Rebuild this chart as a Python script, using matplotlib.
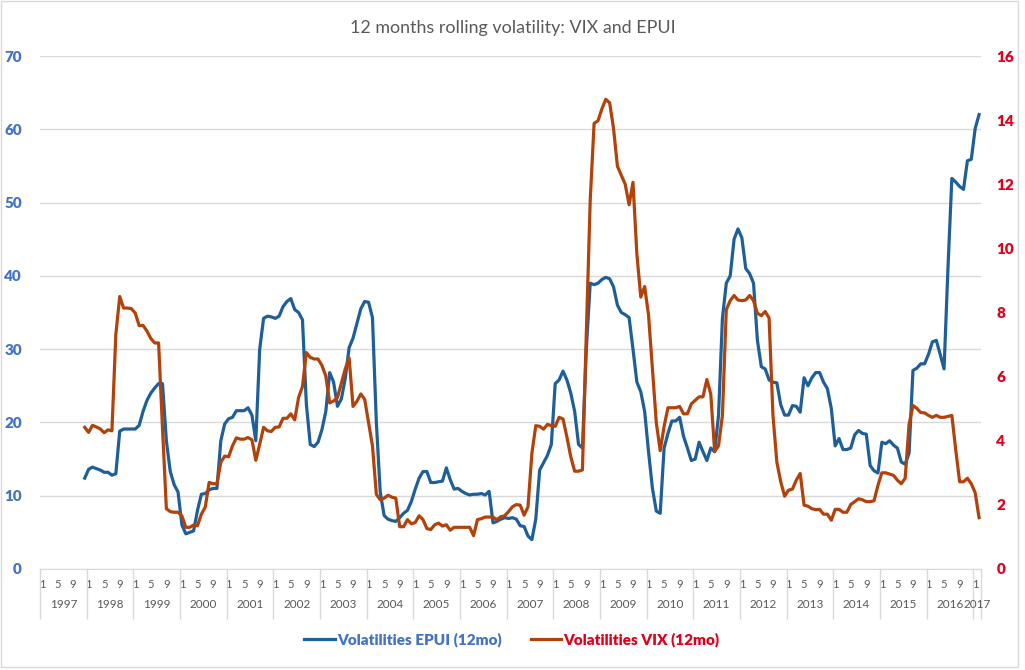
import pandas as pd
import matplotlib.pyplot as plt
from matplotlib.patches import Rectangle

plt.rcParams['font.family'] = ['Lato', 'DejaVu Sans']

# months on the category axis: Jan 1997 .. Feb 2017
months = pd.date_range('1997-01-01', '2017-02-01', freq='MS')
start_month = '1997-12-01'

# 12 months rolling volatility, EPUI (left axis), Dec 1997 .. Feb 2017
epui = [12.4,
        13.6, 13.9, 13.7, 13.5, 13.2, 13.2, 12.8, 13.0, 18.8, 19.1, 19.1, 19.1,   # 1998
        19.1, 19.6, 21.5, 23.0, 24.0, 24.7, 25.3, 25.3, 17.5, 13.3, 11.5, 10.5,   # 1999
        6.0, 4.8, 5.0, 5.2, 8.0, 10.2, 10.3, 10.8, 11.0, 11.0, 17.5, 19.8,        # 2000
        20.5, 20.7, 21.6, 21.6, 21.6, 22.0, 21.0, 17.5, 30.0, 34.2, 34.5, 34.4,   # 2001
        34.2, 34.5, 35.8, 36.5, 36.9, 35.4, 35.0, 34.0, 22.5, 17.0, 16.7, 17.3,   # 2002
        19.0, 21.5, 26.8, 25.5, 22.2, 23.2, 26.0, 30.2, 31.5, 33.5, 35.5, 36.5,   # 2003
        36.4, 34.3, 20.0, 10.5, 7.3, 6.8, 6.6, 6.5, 7.0, 7.6, 8.0, 9.2,           # 2004
        10.9, 12.4, 13.3, 13.3, 11.8, 11.8, 11.9, 12.0, 13.8, 12.2, 10.9, 11.0,   # 2005
        10.6, 10.3, 10.1, 10.2, 10.2, 10.3, 10.1, 10.6, 6.3, 6.5, 6.8, 7.0,       # 2006
        6.9, 7.0, 6.8, 5.9, 5.8, 4.5, 4.0, 6.8, 13.5, 14.5, 15.5, 17.0,           # 2007
        25.3, 25.8, 27.0, 25.8, 24.0, 21.5, 17.0, 16.5, 30.0, 39.0, 38.8, 39.0,   # 2008
        39.5, 39.8, 39.6, 38.5, 36.0, 35.0, 34.7, 34.3, 30.0, 25.5, 24.2, 21.5,   # 2009
        16.0, 11.0, 7.9, 7.6, 16.5, 18.5, 20.2, 20.2, 20.7, 18.1, 16.5, 14.8,     # 2010
        15.0, 17.3, 16.0, 14.8, 16.5, 16.0, 21.0, 34.2, 39.0, 40.0, 45.0, 46.4,   # 2011
        45.2, 41.0, 40.3, 39.0, 31.2, 27.6, 27.3, 25.8, 25.5, 25.4, 22.4, 21.0,   # 2012
        21.0, 22.3, 22.2, 21.4, 26.1, 25.0, 26.1, 26.8, 26.8, 25.5, 24.6, 21.9,   # 2013
        16.8, 17.8, 16.3, 16.3, 16.5, 18.3, 18.9, 18.5, 18.4, 14.1, 13.4, 13.1,   # 2014
        17.3, 17.1, 17.5, 16.9, 16.5, 14.6, 14.3, 15.8, 27.1, 27.4, 28.0, 28.0,   # 2015
        29.3, 31.0, 31.2, 29.3, 27.3, 41.0, 53.3, 52.8, 52.2, 51.8, 55.7, 55.9,   # 2016
        60.1, 62.0]                                                               # 2017

# 12 months rolling volatility, VIX (right axis), Dec 1997 .. Feb 2017
vix = [4.42,
       4.26, 4.48, 4.43, 4.37, 4.25, 4.34, 4.31, 7.31, 8.50, 8.14, 8.14, 8.12,
       7.98, 7.59, 7.60, 7.42, 7.19, 7.05, 7.05, 4.40, 1.88, 1.79, 1.77, 1.77,
       1.65, 1.30, 1.30, 1.37, 1.35, 1.71, 1.93, 2.70, 2.66, 2.66, 3.33, 3.52,
       3.50, 3.84, 4.09, 4.05, 4.05, 4.10, 4.03, 3.39, 3.89, 4.42, 4.31, 4.29,
       4.42, 4.43, 4.70, 4.70, 4.84, 4.65, 5.35, 5.69, 6.75, 6.60, 6.55, 6.55,
       6.35, 6.02, 5.18, 5.24, 5.35, 5.80, 6.24, 6.58, 5.07, 5.23, 5.46, 5.29,
       4.56, 3.84, 2.33, 2.16, 2.21, 2.30, 2.24, 2.21, 1.32, 1.32, 1.54, 1.41,
       1.45, 1.66, 1.54, 1.26, 1.23, 1.38, 1.43, 1.34, 1.38, 1.21, 1.30, 1.30,
       1.30, 1.30, 1.30, 1.04, 1.54, 1.57, 1.62, 1.62, 1.62, 1.54, 1.63, 1.66,
       1.79, 1.94, 2.01, 1.99, 1.68, 1.94, 3.61, 4.47, 4.45, 4.36, 4.51, 4.47,
       4.45, 4.73, 4.68, 4.12, 3.50, 3.05, 3.05, 3.09, 7.36, 11.5, 13.9, 13.98,
       14.35, 14.65, 14.54, 13.74, 12.56, 12.28, 12.0, 11.36, 12.06, 9.82, 8.48, 8.81,
       7.92, 6.24, 4.56, 3.69, 4.45, 5.03, 5.03, 5.03, 5.07, 4.84, 4.84, 5.15,
       5.26, 5.37, 5.37, 5.91, 5.46, 3.67, 3.84, 4.79, 8.09, 8.37, 8.53, 8.39,
       8.37, 8.39, 8.53, 8.37, 7.98, 7.90, 8.03, 7.83, 4.79, 3.33, 2.72, 2.27,
       2.46, 2.49, 2.77, 2.98, 1.99, 1.96, 1.88, 1.85, 1.86, 1.71, 1.71, 1.52,
       1.86, 1.86, 1.77, 1.77, 2.01, 2.10, 2.19, 2.16, 2.10, 2.10, 2.13, 2.61,
       3.00, 3.00, 2.96, 2.92, 2.77, 2.66, 2.83, 4.51, 5.10, 5.01, 4.88, 4.87,
       4.79, 4.73, 4.79, 4.73, 4.73, 4.76, 4.79, 3.72, 2.72, 2.72, 2.83, 2.66,
       2.38, 1.60]

left_ticks = [0, 10, 20, 30, 40, 50, 60, 70]
right_ticks = [0, 2, 4, 6, 8, 10, 12, 14, 16]

blue = '#1f5f99'
orange = '#b3420a'
blue_txt = '#4472c4'
red_txt = '#e0001b'
grey = '#595959'

i0 = list(months).index(pd.Timestamp(start_month))
x = list(range(i0, len(months)))

fig = plt.figure(figsize=(10.25, 6.7), dpi=100)
ax = fig.add_axes([40 / 1025, 1 - 569 / 670, 941 / 1025, 513 / 670])
ax2 = ax.twinx()

l1, = ax.plot(x, epui, color=blue, lw=2.3, solid_joinstyle='round', zorder=3)
l2, = ax2.plot(x, vix, color=orange, lw=2.3, solid_joinstyle='round', zorder=3)

ax.set_xlim(-0.5, len(months) - 0.5)
ax.set_ylim(0, 70)
ax2.set_ylim(0, 16)
ax.set_yticks(left_ticks)
ax2.set_yticks(right_ticks)
ax.grid(axis='y', color='#d9d9d9', lw=1)
ax.set_axisbelow(True)

for a in (ax, ax2):
    for s in a.spines.values():
        s.set_visible(False)
ax.spines['bottom'].set_visible(True)
ax.spines['bottom'].set_color('#d9d9d9')

ax.tick_params(axis='y', length=0, pad=13, labelcolor=blue_txt, labelsize=11)
ax2.tick_params(axis='y', length=0, pad=11, labelcolor=red_txt, labelsize=11)
for t in ax.get_yticklabels() + ax2.get_yticklabels():
    t.set_fontweight('heavy')

# month labels 1 5 9
pos = [k for k, m in enumerate(months) if m.month in (1, 5, 9)]
ax.set_xticks(pos)
ax.set_xticklabels([str(months[k].month) for k in pos], fontsize=8, color=grey)
ax.tick_params(axis='x', which='major', length=0, pad=7)

# year separators
bounds = [k - 0.5 for k, m in enumerate(months) if m.month == 1] + [len(months) - 0.5]
ax.set_xticks(bounds, minor=True)
ax.tick_params(axis='x', which='minor', length=36, width=1, color='#d9d9d9')

years = sorted(set(m.year for m in months))
for yr in years:
    idx = [k for k, m in enumerate(months) if m.year == yr]
    ax.text((idx[0] + idx[-1]) / 2, -35 / 513, str(yr), transform=ax.get_xaxis_transform(),
            ha='center', va='center', fontsize=8.5, color=grey)

fig.suptitle('12 months rolling volatility: VIX and EPUI', y=1 - 28 / 670, va='center',
             fontsize=12.9, color=grey)

leg = fig.legend([l1, l2], ['Volatilities EPUI (12mo)', 'Volatilities VIX (12mo)'],
                 loc='center', bbox_to_anchor=(512 / 1025, 1 - 640 / 670), ncol=2,
                 frameon=False, fontsize=11, handlelength=2.0, handletextpad=0.15,
                 columnspacing=1.9)
for t, c in zip(leg.get_texts(), (blue_txt, red_txt)):
    t.set_color(c)
    t.set_fontweight('heavy')

fig.patches.append(Rectangle((0.001, 1 - 667 / 670), 1017 / 1025, 666 / 670,
                             transform=fig.transFigure, fill=False,
                             edgecolor='#d9d9d9', lw=1))

fig.savefig('out.png', dpi=100)
